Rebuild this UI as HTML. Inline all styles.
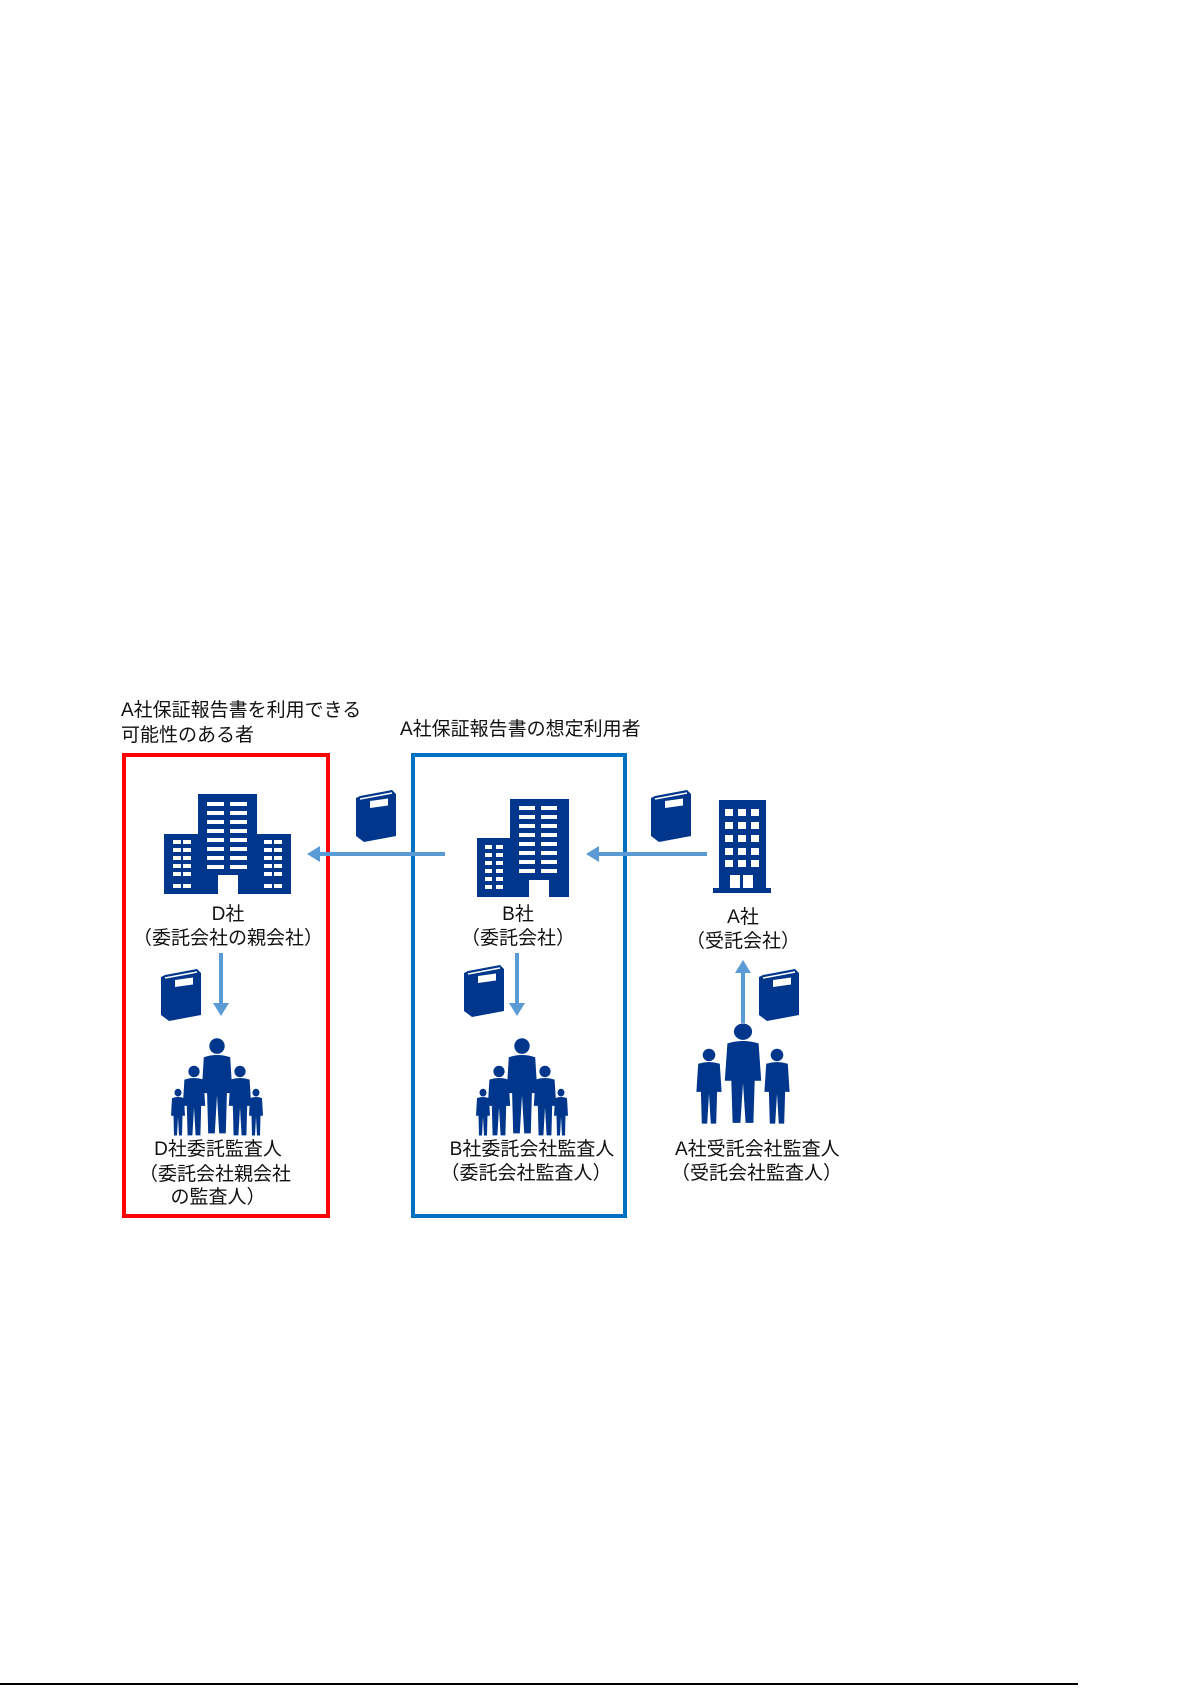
<!DOCTYPE html>
<html><head><meta charset="utf-8"><style>
html,body{margin:0;padding:0;background:#fff;}
svg text{font-family:"Liberation Sans","Noto Sans CJK JP",sans-serif;font-size:19px;fill:#111;}
</style></head><body>
<svg width="1192" height="1685" viewBox="0 0 1192 1685" xmlns="http://www.w3.org/2000/svg">
<defs>
<g id="book">
<path d="M4 6 L36 0 L40 4 L40 46 L8 52 L0 46 L0 8 Z" fill="#00378C"/>
<path d="M4 9 L36 3" stroke="#fff" stroke-width="1.5"/>
<rect x="14" y="13" width="18" height="7" fill="#fff" transform="skewY(-8)"/>
</g>
<g id="person">
<circle cx="0" cy="-8" r="7"/>
<path d="M-12 2 Q0 -2 12 2 L14 34 L9 34 L8 70 L2 70 L0 36 L-2 70 L-8 70 L-9 34 L-14 34 Z"/>
</g>
<g id="people" fill="#00378C">
<use href="#person" transform="translate(45,10) scale(1.1,1.12)"/>
<use href="#person" transform="translate(22,33) scale(0.8,0.82)"/>
<use href="#person" transform="translate(68,33) scale(0.8,0.82)"/>
<use href="#person" transform="translate(6,52) scale(0.5,0.55)"/>
<use href="#person" transform="translate(84,52) scale(0.5,0.55)"/>
</g>
</defs>

<text x="121" y="716">A社保証報告書を利用できる</text>
<text x="121" y="741">可能性のある者</text>
<text x="400" y="735">A社保証報告書の想定利用者</text>

<rect x="124" y="755" width="204" height="461" fill="none" stroke="#FF0000" stroke-width="4"/>
<rect x="413" y="755" width="212" height="461" fill="none" stroke="#0070C0" stroke-width="4"/>

<g stroke="#5B9BD5" stroke-width="4" fill="none">
<line x1="445" y1="854" x2="318" y2="854"/>
<line x1="707" y1="854" x2="597" y2="854"/>
<line x1="221" y1="953" x2="221" y2="1004"/>
<line x1="517" y1="953" x2="517" y2="1004"/>
<line x1="743" y1="1023" x2="743" y2="972"/>
</g>
<g fill="#5B9BD5">
<path d="M307 854 L320 846 L320 862 Z"/>
<path d="M586 854 L599 846 L599 862 Z"/>
<path d="M221 1016 L213 1003 L229 1003 Z"/>
<path d="M517 1016 L509 1003 L525 1003 Z"/>
<path d="M743 960 L735 973 L751 973 Z"/>
</g>

<g fill="#00378C">
<rect x="164" y="834" width="127" height="60"/>
<rect x="198" y="794" width="59" height="100"/>
</g>
<g fill="#fff">
<rect x="207" y="802" width="17" height="4"/><rect x="230" y="802" width="17" height="4"/>
<rect x="207" y="811" width="17" height="4"/><rect x="230" y="811" width="17" height="4"/>
<rect x="207" y="820" width="17" height="4"/><rect x="230" y="820" width="17" height="4"/>
<rect x="207" y="829" width="17" height="4"/><rect x="230" y="829" width="17" height="4"/>
<rect x="207" y="838" width="17" height="4"/><rect x="230" y="838" width="17" height="4"/>
<rect x="207" y="847" width="17" height="4"/><rect x="230" y="847" width="17" height="4"/>
<rect x="207" y="856" width="17" height="4"/><rect x="230" y="856" width="17" height="4"/>
<rect x="207" y="865" width="17" height="4"/><rect x="230" y="865" width="17" height="4"/>
<rect x="218" y="875" width="20" height="19"/>
<rect x="173" y="840" width="8" height="4"/><rect x="183" y="840" width="8" height="4"/>
<rect x="173" y="848" width="8" height="4"/><rect x="183" y="848" width="8" height="4"/>
<rect x="173" y="856" width="8" height="4"/><rect x="183" y="856" width="8" height="4"/>
<rect x="173" y="864" width="8" height="4"/><rect x="183" y="864" width="8" height="4"/>
<rect x="173" y="872" width="8" height="4"/><rect x="183" y="872" width="8" height="4"/>
<rect x="173" y="884" width="8" height="4"/><rect x="183" y="884" width="8" height="4"/>
<rect x="264" y="840" width="8" height="4"/><rect x="274" y="840" width="8" height="4"/>
<rect x="264" y="848" width="8" height="4"/><rect x="274" y="848" width="8" height="4"/>
<rect x="264" y="856" width="8" height="4"/><rect x="274" y="856" width="8" height="4"/>
<rect x="264" y="864" width="8" height="4"/><rect x="274" y="864" width="8" height="4"/>
<rect x="264" y="872" width="8" height="4"/><rect x="274" y="872" width="8" height="4"/>
<rect x="264" y="884" width="8" height="4"/><rect x="274" y="884" width="8" height="4"/>
</g>

<g fill="#00378C">
<rect x="477" y="838" width="40" height="59"/>
<rect x="510" y="799" width="59" height="98"/>
</g>
<g fill="#fff">
<rect x="519" y="806" width="16" height="4"/><rect x="541" y="806" width="16" height="4"/>
<rect x="519" y="815" width="16" height="4"/><rect x="541" y="815" width="16" height="4"/>
<rect x="519" y="824" width="16" height="4"/><rect x="541" y="824" width="16" height="4"/>
<rect x="519" y="833" width="16" height="4"/><rect x="541" y="833" width="16" height="4"/>
<rect x="519" y="842" width="16" height="4"/><rect x="541" y="842" width="16" height="4"/>
<rect x="519" y="851" width="16" height="4"/><rect x="541" y="851" width="16" height="4"/>
<rect x="519" y="860" width="16" height="4"/><rect x="541" y="860" width="16" height="4"/>
<rect x="519" y="869" width="16" height="4"/><rect x="541" y="869" width="16" height="4"/>
<rect x="529" y="880" width="20" height="17"/>
<rect x="485" y="845" width="7" height="4"/><rect x="496" y="845" width="7" height="4"/>
<rect x="485" y="853" width="7" height="4"/><rect x="496" y="853" width="7" height="4"/>
<rect x="485" y="861" width="7" height="4"/><rect x="496" y="861" width="7" height="4"/>
<rect x="485" y="869" width="7" height="4"/><rect x="496" y="869" width="7" height="4"/>
<rect x="485" y="877" width="7" height="4"/><rect x="496" y="877" width="7" height="4"/>
<rect x="485" y="885" width="7" height="4"/><rect x="496" y="885" width="7" height="4"/>
</g>

<g fill="#00378C">
<rect x="719" y="800" width="47" height="90"/>
<rect x="713" y="888" width="58" height="5"/>
</g>
<g fill="#fff">
<rect x="725" y="809" width="8" height="7"/><rect x="738" y="809" width="8" height="7"/><rect x="751" y="809" width="8" height="7"/>
<rect x="725" y="822" width="8" height="7"/><rect x="738" y="822" width="8" height="7"/><rect x="751" y="822" width="8" height="7"/>
<rect x="725" y="835" width="8" height="7"/><rect x="738" y="835" width="8" height="7"/><rect x="751" y="835" width="8" height="7"/>
<rect x="725" y="848" width="8" height="7"/><rect x="738" y="848" width="8" height="7"/><rect x="751" y="848" width="8" height="7"/>
<rect x="725" y="860" width="8" height="7"/><rect x="738" y="860" width="8" height="7"/><rect x="751" y="860" width="8" height="7"/>
<rect x="730" y="875" width="10" height="13"/><rect x="743" y="875" width="10" height="13"/>
</g>

<use href="#book" transform="translate(356,790)"/>
<use href="#book" transform="translate(651,790)"/>
<use href="#book" transform="translate(161,969)"/>
<use href="#book" transform="translate(464,965)"/>
<use href="#book" transform="translate(759,969)"/>

<use href="#people" transform="translate(172,1045)"/>
<use href="#people" transform="translate(477,1045)"/>
<g fill="#00378C">
<use href="#person" transform="translate(743,1041) scale(1.3,1.17)"/>
<use href="#person" transform="translate(709,1062) scale(0.9,0.88)"/>
<use href="#person" transform="translate(777,1062) scale(0.9,0.88)"/>
</g>

<g text-anchor="middle">
<text x="228" y="920">D社</text>
<text x="228" y="944">（委託会社の親会社）</text>
<text x="518" y="920">B社</text>
<text x="518" y="944">（委託会社）</text>
<text x="743" y="923">A社</text>
<text x="743" y="947">（受託会社）</text>
<text x="218" y="1155">D社委託監査人</text>
<text x="215" y="1180">（委託会社親会社</text>
<text x="218" y="1203">の監査人）</text>
<text x="532" y="1155">B社委託会社監査人</text>
<text x="526" y="1179">（委託会社監査人）</text>
</g>
<text x="675" y="1155">A社受託会社監査人</text>
<text x="671" y="1179">（受託会社監査人）</text>

<line x1="0" y1="1684" x2="1078" y2="1684" stroke="#000" stroke-width="2"/>
</svg>
</body></html>
